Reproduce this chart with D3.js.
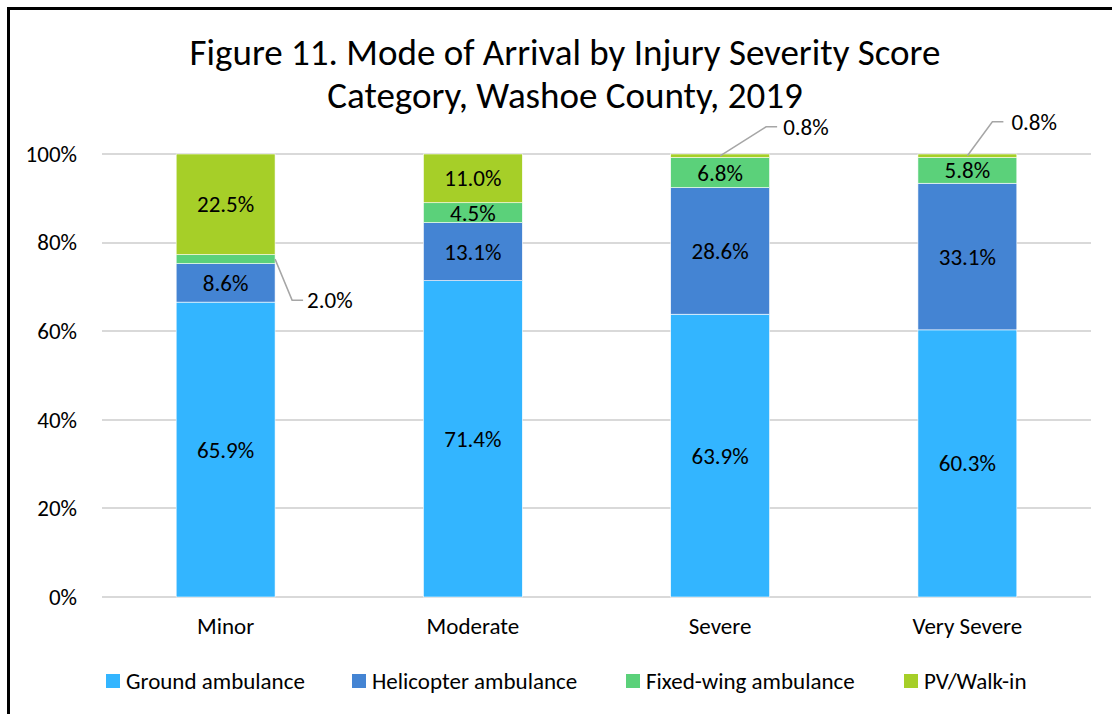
<!DOCTYPE html>
<html>
<head>
<meta charset="utf-8">
<script src="https://cdn.jsdelivr.net/npm/d3@7"></script>
<style>
  body { margin: 0; background: #fff; }
  svg { display: block; font-family: Carlito, Lato, sans-serif; }
</style>
</head>
<body>
<svg id="chart"></svg>
<script>
// data
var categories = ["Minor", "Moderate", "Severe", "Very Severe"];
var seriesNames = ["Ground ambulance", "Helicopter ambulance", "Fixed-wing ambulance", "PV/Walk-in"];
var ground = [65.9, 71.4, 63.9, 60.3];
var helicopter = [8.6, 13.1, 28.6, 33.1];
var fixedWing = [2.0, 4.5, 6.8, 5.8];
var walkIn = [22.5, 11.0, 0.8, 0.8];
var yTicks = [0, 0.2, 0.4, 0.6, 0.8, 1.0];

var colors = ["#33b5ff", "#4484d3", "#5bd17a", "#a6cf28"];

var width = 1112;
var height = 714;
var margin = { left: 102, right: 21, top: 154, bottom: 117 };
var fontSize = 23;

var svg = d3.select("#chart").attr("width", width).attr("height", height);

// chart border
svg.append("path")
  .attr("d", "M8.5," + height + "V8.5H" + width)
  .attr("stroke", "#000")
  .attr("stroke-width", 3)
  .attr("fill", "none");

// title
var title = svg.append("text")
  .attr("text-anchor", "middle")
  .attr("font-size", 37)
  .attr("fill", "#000");
title.append("tspan").attr("x", 565).attr("y", 65).text("Figure 11. Mode of Arrival by Injury Severity Score");
title.append("tspan").attr("x", 565).attr("y", 108).text("Category, Washoe County, 2019");

// table for stacking
var rows = categories.map(function (c, i) {
  return { cat: c, 0: ground[i], 1: helicopter[i], 2: fixedWing[i], 3: walkIn[i] };
});
var stacked = d3.stack().keys([0, 1, 2, 3]).offset(d3.stackOffsetExpand)(rows);

var x = d3.scaleBand()
  .domain(categories)
  .range([margin.left, width - margin.right])
  .paddingInner(0.6)
  .paddingOuter(0.3);

var y = d3.scaleLinear()
  .domain([0, 1])
  .range([height - margin.bottom, margin.top]);

// grid
svg.append("g")
  .selectAll("line")
  .data(yTicks)
  .join("line")
  .attr("x1", margin.left)
  .attr("x2", width - margin.right)
  .attr("y1", function (d) { return Math.round(y(d)); })
  .attr("y2", function (d) { return Math.round(y(d)); })
  .attr("stroke", "#d9d9d9")
  .attr("stroke-width", 2);

// y axis labels
var yAxis = svg.append("g")
  .attr("transform", "translate(" + (margin.left - 22) + ",0)")
  .call(d3.axisLeft(y).tickValues(yTicks).tickFormat(d3.format(".0%")).tickSize(0));
yAxis.select(".domain").remove();
yAxis.selectAll("text").attr("font-size", fontSize).attr("fill", "#000").attr("font-family", "Carlito, Lato, sans-serif");

// x axis labels
var xAxis = svg.append("g")
  .attr("transform", "translate(0," + (height - margin.bottom + 18) + ")")
  .call(d3.axisBottom(x).tickSize(0));
xAxis.select(".domain").remove();
xAxis.selectAll("text").attr("font-size", fontSize).attr("fill", "#000").attr("font-family", "Carlito, Lato, sans-serif");

// bars
var layers = svg.append("g")
  .selectAll("g")
  .data(stacked)
  .join("g")
  .attr("fill", function (d, i) { return colors[i]; });

layers.selectAll("rect")
  .data(function (d) { return d; })
  .join("rect")
  .attr("x", function (d) { return x(d.data.cat); })
  .attr("width", x.bandwidth())
  .attr("y", function (d) { return y(d[1]); })
  .attr("height", function (d) { return y(d[0]) - y(d[1]); })
  .attr("stroke", "#fff")
  .attr("stroke-width", 0.6);

// data labels, small segments get a leader line
var callouts = {
  "2-0": { side: "right", dx: 28, dy: 41, gap: 4 },
  "3-2": { side: "mid", dx: 57, dy: -29, gap: 6 },
  "3-3": { side: "mid", dx: 36, dy: -34, gap: 8 }
};

stacked.forEach(function (layer, si) {
  layer.forEach(function (d, ci) {
    var v = rows[ci][si];
    var label = v.toFixed(1) + "%";
    var cx = x(d.data.cat) + x.bandwidth() / 2;
    var cy = (y(d[0]) + y(d[1])) / 2;
    var co = callouts[si + "-" + ci];
    if (co) {
      var sx = co.side === "right" ? x(d.data.cat) + x.bandwidth() : cx;
      var sy = cy;
      var ex = sx + co.dx;
      var ey = sy + co.dy;
      svg.append("path")
        .attr("d", d3.line()([[sx, sy], [ex - 11, ey], [ex, ey]]))
        .attr("stroke", "#a6a6a6")
        .attr("stroke-width", 1.5)
        .attr("fill", "none");
      svg.append("text")
        .attr("x", ex + co.gap)
        .attr("y", ey)
        .attr("dy", "0.35em")
        .attr("font-size", fontSize)
        .text(label);
    } else {
      svg.append("text")
        .attr("x", cx)
        .attr("y", cy)
        .attr("dy", "0.35em")
        .attr("text-anchor", "middle")
        .attr("font-size", fontSize)
        .text(label);
    }
  });
});

// legend
var legendX = [106, 352, 626, 904];
var legend = svg.append("g")
  .selectAll("g")
  .data(seriesNames)
  .join("g")
  .attr("transform", function (d, i) { return "translate(" + legendX[i] + ",681)"; });
legend.append("rect")
  .attr("x", 0).attr("y", -7)
  .attr("width", 14).attr("height", 14)
  .attr("fill", function (d, i) { return colors[i]; });
legend.append("text")
  .attr("x", 20)
  .attr("dy", "0.35em")
  .attr("font-size", fontSize)
  .text(function (d) { return d; });
</script>
</body>
</html>
